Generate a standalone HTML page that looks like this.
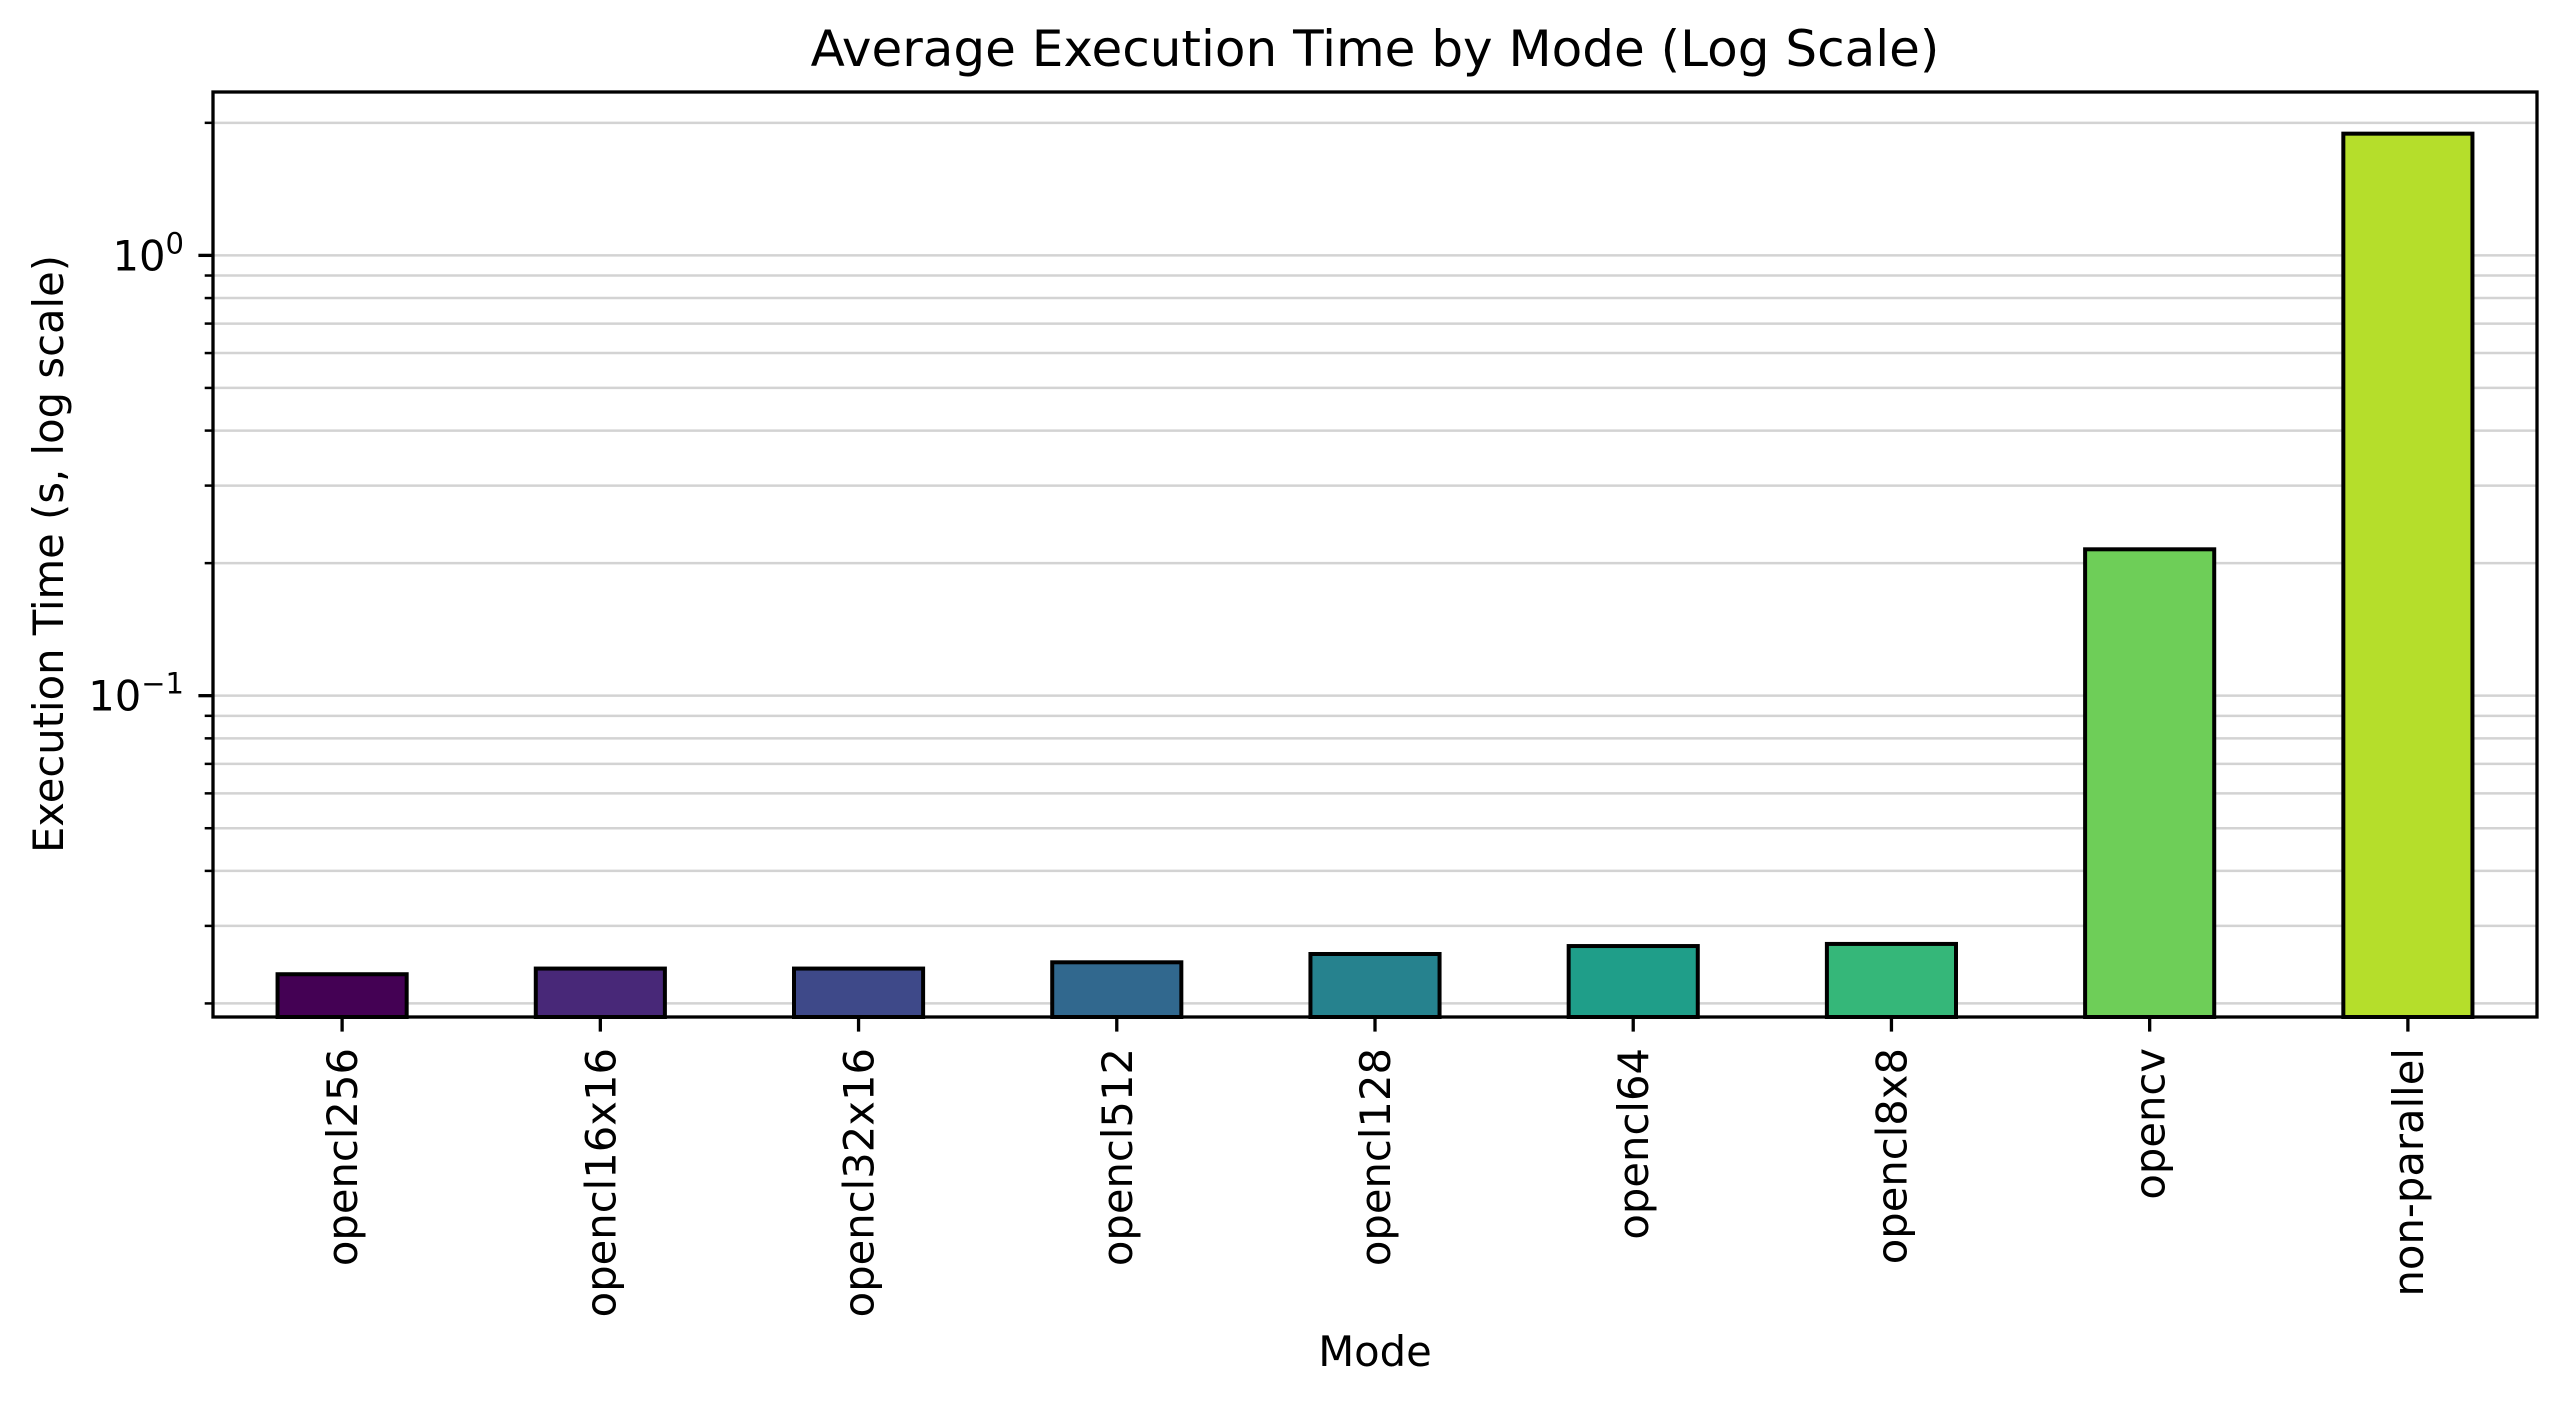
<!DOCTYPE html>
<html><head><meta charset="utf-8"><style>
html,body{margin:0;padding:0;background:#fff;}
svg{display:block;font-family:"DejaVu Sans","Liberation Sans",sans-serif;}
</style></head><body>
<svg id="chart" width="2568" height="1403" viewBox="0 0 2568 1403" xmlns="http://www.w3.org/2000/svg">
<rect x="0" y="0" width="2568" height="1403" fill="#fff"/>
<g id="grid"></g>
<g id="bars"></g>
<g id="axes"></g>
<text x="1375" y="66" font-size="50" text-anchor="middle" fill="#000">Average Execution Time by Mode (Log Scale)</text>
<text x="1375" y="1366" font-size="41.7" text-anchor="middle" fill="#000">Mode</text>
<text transform="translate(63,554) rotate(-90)" font-size="41.7" text-anchor="middle" fill="#000">Execution Time (s, log scale)</text>
</svg>
<script>
const categories = ["opencl256","opencl16x16","opencl32x16","opencl512","opencl128","opencl64","opencl8x8","opencv","non-parallel"];
const values = [0.0233,0.0240,0.0240,0.0248,0.0259,0.0270,0.0273,0.215,1.89];
const colors = ["#440154","#482878","#3e4989","#31688e","#26828e","#1f9e89","#35b779","#6ece58","#b5de2b"];
const yMajorTicks = [0.1,1];
const yMajorLabels = [["10","−1"],["10","0"]];

const NS="http://www.w3.org/2000/svg";
const L=213,R=2537,T=92,B=1017;
const yMin=Math.log10(0.01863), yMax=Math.log10(2.35);
function ys(v){return B-(Math.log10(v)-yMin)/(yMax-yMin)*(B-T);}
const xStep=(R-L)/categories.length;
function xs(i){return L+(i+0.5)*xStep;}
function mk(tag,attrs,parent){const e=document.createElementNS(NS,tag);for(const k in attrs)e.setAttribute(k,attrs[k]);parent.appendChild(e);return e;}

const grid=document.getElementById('grid'), bars=document.getElementById('bars'), axes=document.getElementById('axes');
// minor + major grid lines
for(let d=-2; d<=0; d++){
  for(let m=1;m<=9;m++){
    const v=m*Math.pow(10,d);
    if(v<Math.pow(10,yMin)||v>Math.pow(10,yMax))continue;
    const y=ys(v);
    const g=mk('line',{x1:L,x2:R,y1:y,y2:y,stroke:'#d3d3d3','stroke-width':2.5},grid);
    
    
    const t=mk('line',{x1:L-(m===1?14.6:8.3),x2:L,y1:y,y2:y,stroke:'#000','stroke-width':m===1?3.3:2.5},axes);
    
    
  }
}
// bars
categories.forEach((c,i)=>{
  const w=xStep*0.5, y=ys(values[i]);
  const r=mk('rect',{x:xs(i)-w/2,y:y,width:w,height:B-y,fill:colors[i],stroke:'#000','stroke-width':4},bars);
  
  
  const t=mk('line',{x1:xs(i),x2:xs(i),y1:B,y2:B+14.6,stroke:'#000','stroke-width':3.3},axes);
  
  
  const tx=mk('text',{transform:`translate(${xs(i)+15},${B+31}) rotate(-90)`,'font-size':41.7,'text-anchor':'end',fill:'#000'},axes);
  tx.textContent=c;
  
  
});
// y major labels
yMajorTicks.forEach((v,i)=>{
  const t=mk('text',{x:184,y:ys(v)+15,'font-size':41.7,'text-anchor':'end',fill:'#000'},axes);
  
  
  const a=document.createElementNS(NS,'tspan');a.textContent=yMajorLabels[i][0];t.appendChild(a);
  const b=document.createElementNS(NS,'tspan');b.setAttribute('dy','-17');b.setAttribute('font-size','29');b.textContent=yMajorLabels[i][1];t.appendChild(b);
});
// frame
const f=mk('rect',{x:L,y:T,width:R-L,height:B-T,fill:'none',stroke:'#000','stroke-width':3.3},axes);


</script>
</body></html>
